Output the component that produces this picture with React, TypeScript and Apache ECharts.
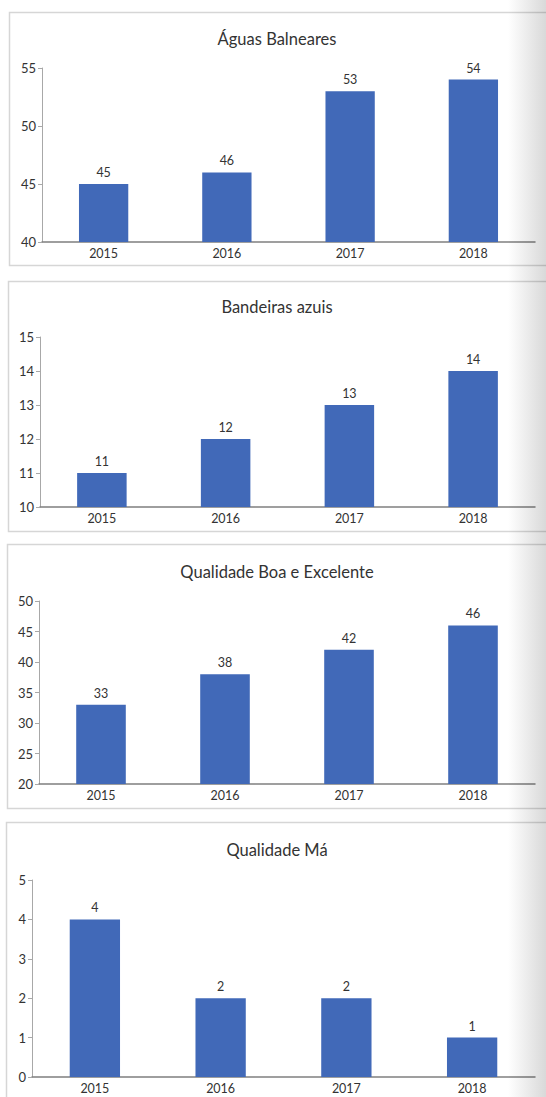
import React, { useEffect, useRef } from "react";
import * as echarts from "echarts";

const years = ["2015", "2016", "2017", "2018"];
const aguasBalneares = [45, 46, 53, 54];
const bandeirasAzuis = [11, 12, 13, 14];
const qualidadeBoaExcelente = [33, 38, 42, 46];
const qualidadeMa = [4, 2, 2, 1];

const titles = ["Águas Balneares", "Bandeiras azuis", "Qualidade Boa e Excelente", "Qualidade Má"];
const yMins = [40, 10, 20, 0];
const yMaxs = [55, 15, 50, 5];
const yIntervals = [5, 1, 5, 1];

const FONT = "Lato, 'Open Sans', sans-serif";
const BAR = "#4169B8";
const TXT = "#333333";

export default function App() {
  const ref = useRef<HTMLDivElement>(null);
  useEffect(() => {
    if (!ref.current) return;
    const chart = echarts.init(ref.current, null, { renderer: "svg" });
    const seriesData = [aguasBalneares, bandeirasAzuis, qualidadeBoaExcelente, qualidadeMa];
    const grids = [
      { left: 42, top: 68, width: 493, height: 174 },
      { left: 40, top: 337, width: 495, height: 170 },
      { left: 39, top: 601, width: 496, height: 183 },
      { left: 32, top: 880, width: 503, height: 197 },
    ];
    const panels = [
      { x: 9.5, y: 12.5, h: 253 },
      { x: 8.5, y: 281.5, h: 250 },
      { x: 7.5, y: 544.5, h: 264 },
      { x: 6.5, y: 822.5, h: 300 },
    ];
    const titleY = [39, 307, 572, 850];

    const graphic: any[] = [];
    panels.forEach((p) => {
      graphic.push({
        type: "rect",
        z: -10,
        shape: { x: p.x, y: p.y, width: 560 - p.x, height: p.h },
        style: { fill: "#ffffff", stroke: "#d6d6d6", lineWidth: 1.5 },
      });
    });
    titles.forEach((t, i) => {
      graphic.push({
        type: "text",
        x: 277,
        y: titleY[i],
        style: {
          text: t,
          align: "center",
          verticalAlign: "middle",
          fill: TXT,
          font: `16.5px ${FONT}`,
        },
      });
    });
    graphic.push({
      type: "rect",
      z: 100,
      shape: { x: 508, y: 0, width: 38, height: 1097 },
      style: {
        fill: new echarts.graphic.LinearGradient(0, 0, 1, 0, [
          { offset: 0, color: "rgba(0,0,0,0)" },
          { offset: 1, color: "rgba(0,0,0,0.15)" },
        ]),
      },
    });

    chart.setOption({
      animation: false,
      backgroundColor: "#ffffff",
      textStyle: { fontFamily: FONT },
      grid: grids.map((g) => ({ ...g, containLabel: false })),
      xAxis: grids.map((_, i) => ({
        type: "category",
        gridIndex: i,
        data: years,
        axisTick: { show: false },
        axisLine: { show: true, lineStyle: { color: "#7f7f7f", width: 1.5 } },
        axisLabel: { color: TXT, fontSize: 12.5, margin: 5, fontFamily: FONT },
      })),
      yAxis: grids.map((_, i) => ({
        type: "value",
        gridIndex: i,
        min: yMins[i],
        max: yMaxs[i],
        interval: yIntervals[i],
        splitLine: { show: false },
        axisLine: { show: true, lineStyle: { color: "#a8a8a8", width: 1 } },
        axisTick: { show: true, length: 4, lineStyle: { color: "#a8a8a8" } },
        axisLabel: { color: TXT, fontSize: 13, margin: 6, fontFamily: FONT },
      })),
      series: seriesData.map((d, i) => ({
        type: "bar",
        xAxisIndex: i,
        yAxisIndex: i,
        data: d,
        barWidth: "40%",
        itemStyle: { color: BAR },
        label: {
          show: true,
          position: "top",
          distance: 5,
          color: TXT,
          fontSize: 12.5,
          fontFamily: FONT,
        },
      })),
      graphic,
    });
    return () => chart.dispose();
  }, []);
  return (
    <div
      ref={ref}
      style={{ position: "absolute", left: 0, top: 0, width: 546, height: 1097 }}
    />
  );
}
